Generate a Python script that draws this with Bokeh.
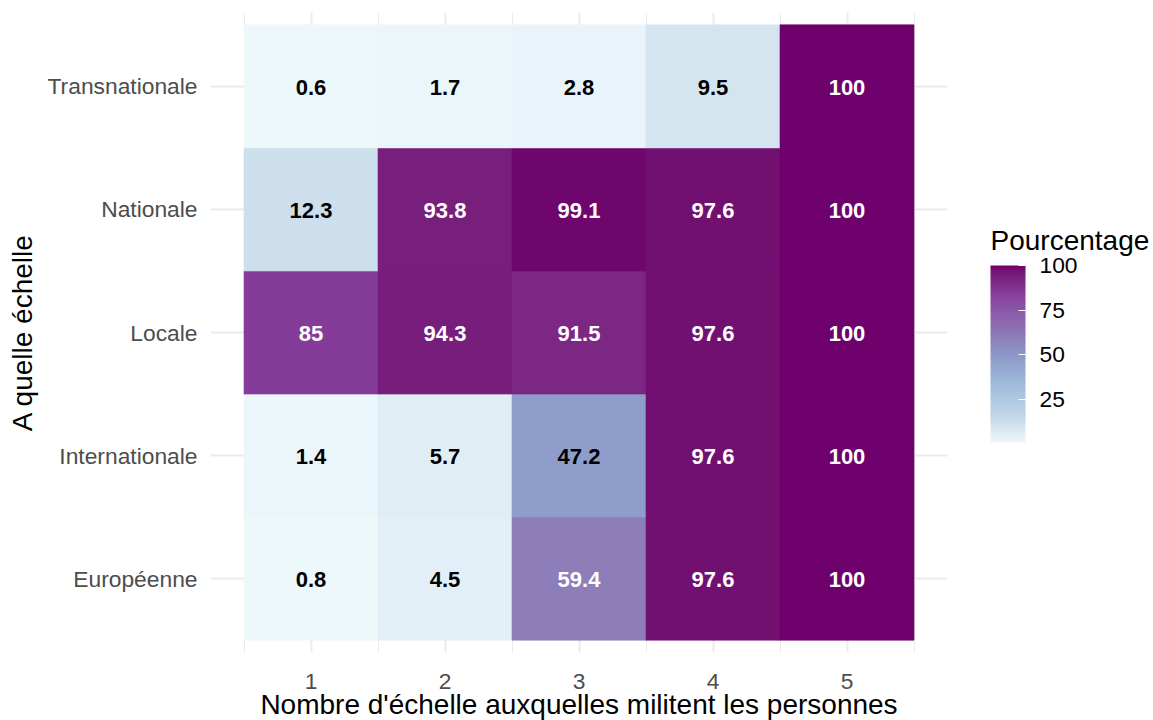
import numpy as np
from bokeh.plotting import figure
from bokeh.models import (ColumnDataSource, LinearColorMapper, ColorBar,
                          FixedTicker)
from bokeh.transform import transform
from bokeh.core.properties import value
from bokeh.embed import file_html
from bokeh.resources import INLINE

# ---------------- data ----------------
n_scales = [1, 2, 3, 4, 5]
echelles = ["Européenne", "Internationale", "Locale", "Nationale", "Transnationale"]
pct_europeenne = [0.8, 4.5, 59.4, 97.6, 100]
pct_internationale = [1.4, 5.7, 47.2, 97.6, 100]
pct_locale = [85, 94.3, 91.5, 97.6, 100]
pct_nationale = [12.3, 93.8, 99.1, 97.6, 100]
pct_transnationale = [0.6, 1.7, 2.8, 9.5, 100]
legend_ticks = [25, 50, 75, 100]

rows = [pct_europeenne, pct_internationale, pct_locale, pct_nationale, pct_transnationale]

xs, ys, vals, labels, tcolors = [], [], [], [], []
for yi, row in enumerate(rows, start=1):
    for x, v in zip(n_scales, row):
        xs.append(x)
        ys.append(yi)
        vals.append(v)
        labels.append(f"{v:g}")
        tcolors.append("white" if v > 50 else "black")

src = ColumnDataSource(dict(x=xs, y=ys, v=vals, lab=labels, tc=tcolors))

# ---------------- BuPu palette (Lab interpolation, like scale_fill_distiller) ----------------
bupu7 = ["#EDF8FB", "#BFD3E6", "#9EBCDA", "#8C96C6", "#8C6BB1", "#88419D", "#6E016B"]
WHITE = np.array([0.95047, 1.0, 1.08883])
M = np.array([[0.4124564, 0.3575761, 0.1804375],
              [0.2126729, 0.7151522, 0.0721750],
              [0.0193339, 0.1191920, 0.9503041]])
Minv = np.linalg.inv(M)


def hex2rgb(h):
    h = h.lstrip("#")
    return np.array([int(h[i:i + 2], 16) for i in (0, 2, 4)]) / 255.0


def rgb2lab(c):
    lin = np.where(c <= 0.04045, c / 12.92, ((c + 0.055) / 1.055) ** 2.4)
    xyz = M @ lin / WHITE
    f = np.where(xyz > (6 / 29) ** 3, np.cbrt(xyz), xyz / (3 * (6 / 29) ** 2) + 4 / 29)
    return np.array([116 * f[1] - 16, 500 * (f[0] - f[1]), 200 * (f[1] - f[2])])


def lab2rgb(lab):
    L, a, b = lab
    fy = (L + 16) / 116
    fx = fy + a / 500
    fz = fy - b / 200
    f = np.array([fx, fy, fz])
    xyz = np.where(f > 6 / 29, f ** 3, 3 * (6 / 29) ** 2 * (f - 4 / 29)) * WHITE
    lin = Minv @ xyz
    lin = np.clip(lin, 0, 1)
    c = np.where(lin <= 0.0031308, 12.92 * lin, 1.055 * lin ** (1 / 2.4) - 0.055)
    return np.clip(c, 0, 1)


labs = np.array([rgb2lab(hex2rgb(h)) for h in bupu7])
stops = np.linspace(0, 1, len(bupu7))
palette = []
for t in np.linspace(0, 1, 256):
    lab = np.array([np.interp(t, stops, labs[:, k]) for k in range(3)])
    r, g, b = (lab2rgb(lab) * 255).round().astype(int)
    palette.append(f"#{r:02x}{g:02x}{b:02x}")

mapper = LinearColorMapper(palette=palette, low=min(vals), high=max(vals))

# ---------------- figure ----------------
FONT = "Liberation Sans"
p = figure(width=1153, height=720, frame_width=737, frame_height=640,
           x_range=(0.25, 5.75), y_range=(0.4, 5.6),
           output_backend="svg", toolbar_location=None,
           min_border_left=210, min_border_right=206,
           min_border_top=12, min_border_bottom=68)
p.outline_line_color = None
p.background_fill_color = "white"
p.border_fill_color = "white"

p.rect(x="x", y="y", width=1, height=1, source=src,
       fill_color=transform("v", mapper), line_color=transform("v", mapper),
       line_width=0.6)

p.text(x="x", y="y", text="lab", source=src, text_color="tc",
       text_font=value(FONT), text_font_style="bold", text_font_size="22px",
       text_align="center", text_baseline="middle", y_offset=1)

# grids
p.xgrid.ticker = FixedTicker(ticks=n_scales, minor_ticks=[0.5, 1.5, 2.5, 3.5, 4.5, 5.5])
p.xgrid.grid_line_color = "#EBEBEB"
p.xgrid.grid_line_width = 2
p.xgrid.minor_grid_line_color = "#EBEBEB"
p.xgrid.minor_grid_line_width = 1
p.ygrid.ticker = FixedTicker(ticks=[1, 2, 3, 4, 5])
p.ygrid.grid_line_color = "#EBEBEB"
p.ygrid.grid_line_width = 2

# axes
p.xaxis.ticker = FixedTicker(ticks=n_scales)
p.yaxis.ticker = FixedTicker(ticks=[1, 2, 3, 4, 5])
p.yaxis.major_label_overrides = {i + 1: e for i, e in enumerate(echelles)}
for ax in (p.xaxis[0], p.yaxis[0]):
    ax.axis_line_color = None
    ax.major_tick_line_color = None
    ax.minor_tick_line_color = None
    ax.major_tick_out = 0
    ax.major_tick_in = 0
    ax.minor_tick_out = 0
    ax.major_label_text_font = FONT
    ax.major_label_text_font_size = "22.8px"
    ax.major_label_text_color = "#4D4D4D"
    ax.axis_label_text_font = FONT
    ax.axis_label_text_font_size = "28px"
    ax.axis_label_text_font_style = "normal"
    ax.axis_label_text_color = "black"

p.yaxis.major_label_standoff = 13
p.yaxis.axis_label = "A quelle échelle"
p.yaxis.axis_label_standoff = 7

p.xaxis.major_label_standoff = 21
p.xaxis.axis_label = "Nombre d'échelle auxquelles militent les personnes"
p.xaxis.axis_label_standoff = -3

# colour bar
cb = ColorBar(color_mapper=mapper, ticker=FixedTicker(ticks=legend_ticks),
              width=35, height=177, location=(780, 210),
              padding=0, margin=0,
              major_label_text_font=FONT, major_label_text_font_size="22.8px",
              major_label_text_color="black", label_standoff=14,
              major_tick_line_color="white", major_tick_in=7, major_tick_out=0,
              minor_tick_line_color=None, bar_line_color=None,
              border_line_color=None, background_fill_color=None)
p.add_layout(cb)

# legend title: a transparent horizontal colour bar carrying only its title
cb_title = ColorBar(color_mapper=mapper, orientation="horizontal",
                    ticker=FixedTicker(ticks=[]), width=160, height=1,
                    location=(780, 396), padding=0, margin=0, scale_alpha=0,
                    title="Pourcentage", title_text_font=FONT,
                    title_text_font_size="28px", title_text_font_style="normal",
                    title_text_color="black", title_standoff=0,
                    major_label_text_font_size="1px", major_label_text_alpha=0,
                    major_tick_line_color=None, minor_tick_line_color=None,
                    bar_line_color=None, border_line_color=None,
                    background_fill_color=None)
p.add_layout(cb_title)

open("out.html", "w").write(file_html(p, INLINE))
